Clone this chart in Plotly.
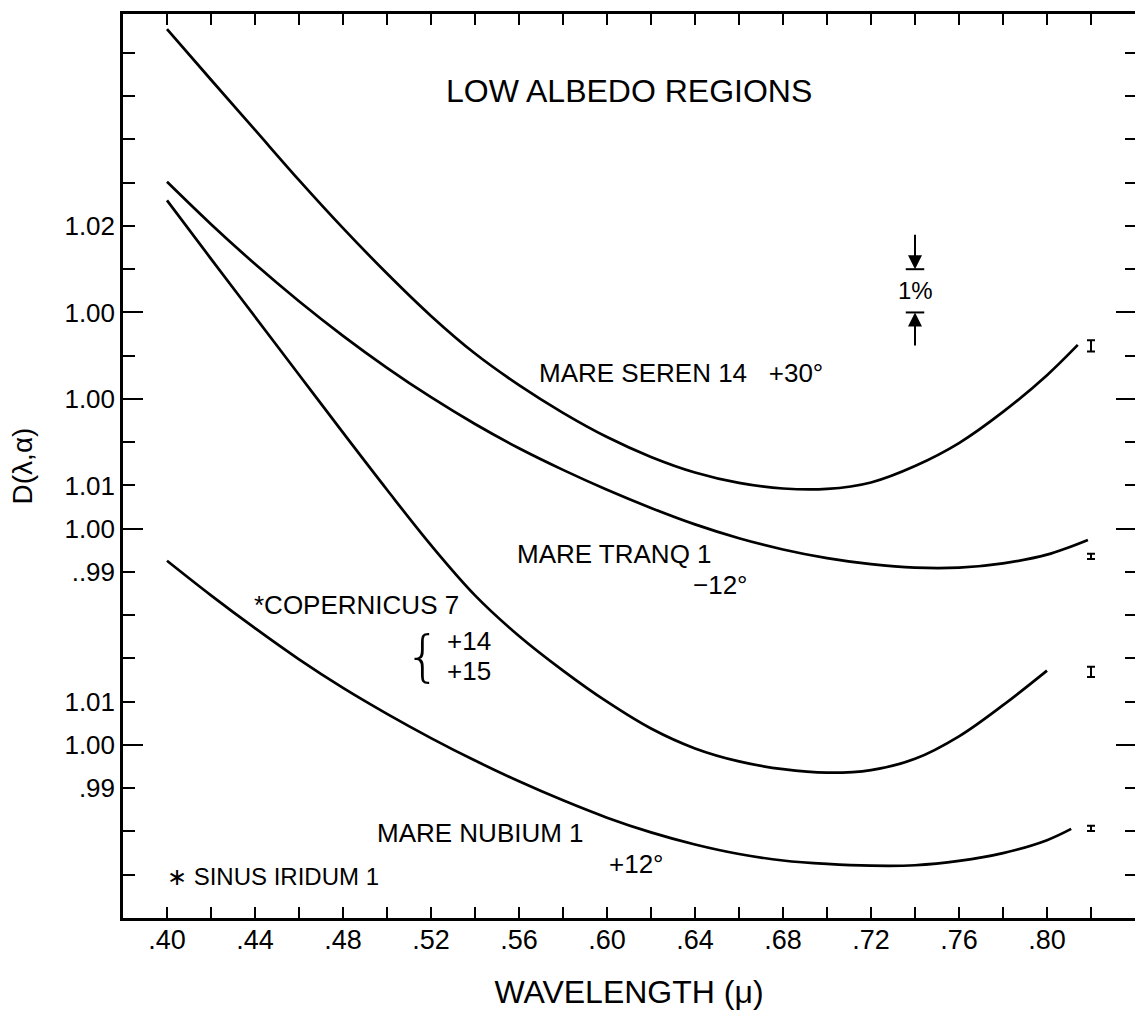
import plotly.graph_objects as go

# ---- data (wavelength in microns; y in chart units, 1 unit = 1 %) ----
seren_x = [0.40, 0.42, 0.44, 0.46, 0.48, 0.50, 0.52, 0.54, 0.56, 0.58, 0.60, 0.62, 0.64,
           0.66, 0.68, 0.70, 0.72, 0.74, 0.76, 0.78, 0.80, 0.814]
seren_y = [20.55, 19.38, 18.22, 17.06, 15.95, 14.90, 13.92, 13.05, 12.32, 11.68, 11.12, 10.66, 10.30,
           10.06, 9.93, 9.92, 10.07, 10.45, 10.98, 11.70, 12.55, 13.25]

tranq_x = [0.40, 0.42, 0.44, 0.46, 0.48, 0.50, 0.52, 0.54, 0.56, 0.58, 0.60, 0.62, 0.64,
           0.66, 0.68, 0.70, 0.72, 0.74, 0.76, 0.78, 0.80, 0.8186]
tranq_y = [17.02, 16.04, 15.12, 14.26, 13.46, 12.72, 12.04, 11.42, 10.86, 10.36, 9.90, 9.48, 9.10,
           8.78, 8.52, 8.32, 8.18, 8.10, 8.10, 8.20, 8.40, 8.74]

coper_x = [0.40, 0.42, 0.44, 0.46, 0.48, 0.50, 0.52, 0.54, 0.56, 0.58, 0.60, 0.62, 0.64,
           0.66, 0.68, 0.70, 0.72, 0.74, 0.76, 0.78, 0.80]
coper_y = [16.59, 15.24, 13.90, 12.56, 11.22, 9.90, 8.62, 7.46, 6.52, 5.72, 5.00, 4.38, 3.92,
           3.62, 3.44, 3.36, 3.42, 3.68, 4.20, 4.92, 5.72]

nubium_x = [0.40, 0.42, 0.44, 0.46, 0.48, 0.50, 0.52, 0.54, 0.56, 0.58, 0.60, 0.62, 0.64,
            0.66, 0.68, 0.70, 0.72, 0.74, 0.76, 0.78, 0.80, 0.811]
nubium_y = [8.26, 7.46, 6.70, 5.98, 5.32, 4.72, 4.16, 3.64, 3.16, 2.72, 2.32, 1.98, 1.70,
            1.48, 1.33, 1.25, 1.21, 1.22, 1.32, 1.50, 1.80, 2.06]

err_x = [0.82, 0.82, 0.82, 0.82]
err_y = [13.23, 8.36, 5.69, 2.07]
err_size = [0.13, 0.06, 0.12, 0.06]

x_tick_vals = [round(0.40 + 0.02 * i, 2) for i in range(22)]
x_tick_text = [(".%02d" % round(v * 100)) if i % 2 == 0 else "" for i, v in enumerate(x_tick_vals)]

y_minor_vals = list(range(1, 21))
y_label_map = {3: ".99", 4: "1.00", 5: "1.01", 8: "..99", 9: "1.00", 10: "1.01",
               12: "1.00", 14: "1.00", 16: "1.02"}
y_tick_text = [y_label_map.get(v, "") for v in y_minor_vals]
y_major_vals = [4, 9, 12, 14]

# 1% scale bar
bar_x = 0.740
bar_top = 15.0
bar_bottom = 14.0

X_RANGE = [0.38, 0.84]
Y_RANGE = [0, 20.9]
FONT = "Liberation Sans, Arial, sans-serif"
LW = 2.7

fig = go.Figure()
for xs, ys in [(seren_x, seren_y), (tranq_x, tranq_y), (coper_x, coper_y), (nubium_x, nubium_y)]:
    fig.add_trace(go.Scatter(x=xs, y=ys, mode="lines",
                             line=dict(color="black", width=LW, shape="spline", smoothing=1.0),
                             showlegend=False, hoverinfo="skip"))

fig.add_trace(go.Scatter(x=err_x, y=err_y, mode="markers", yaxis="y2",
                         marker=dict(size=1, color="black"),
                         error_y=dict(type="data", array=err_size, color="black", thickness=2, width=4),
                         showlegend=False, hoverinfo="skip"))
fig.add_trace(go.Scatter(x=[None], y=[None], yaxis="y3", showlegend=False, hoverinfo="skip"))
fig.add_trace(go.Scatter(x=[None], y=[None], yaxis="y4", showlegend=False, hoverinfo="skip"))

common_y = dict(range=Y_RANGE, showgrid=False, zeroline=False, fixedrange=True)

fig.update_layout(
    width=1135, height=1010,
    margin=dict(l=123, r=0, t=14, b=89),
    paper_bgcolor="white", plot_bgcolor="white",
    font=dict(family=FONT, color="black", size=24),
    xaxis=dict(range=X_RANGE, tickvals=x_tick_vals, ticktext=x_tick_text,
               ticks="inside", ticklen=11, tickwidth=2, tickcolor="black",
               showline=True, linewidth=2.5, linecolor="black", mirror="ticks",
               showgrid=False, zeroline=False, ticklabelstandoff=-4,
               tickfont=dict(size=27),
               title=dict(text="WAVELENGTH (\u03bc)", font=dict(size=32), standoff=32)),
    yaxis=dict(**common_y, tickvals=y_minor_vals, ticktext=y_tick_text,
               ticks="inside", ticklen=12, tickwidth=2, tickcolor="black",
               showline=True, linewidth=2.5, linecolor="black",
               ticklabelstandoff=0, tickfont=dict(size=26),
               title=dict(text="D(\u03bb,\u03b1)", font=dict(size=28), standoff=24)),
    yaxis2=dict(**common_y, overlaying="y", side="right", anchor="x",
                tickvals=y_minor_vals, showticklabels=False,
                ticks="inside", ticklen=10, tickwidth=2, tickcolor="black", showline=False),
    yaxis3=dict(**common_y, overlaying="y", side="left", anchor="x",
                tickvals=y_major_vals, showticklabels=False,
                ticks="inside", ticklen=20, tickwidth=2, tickcolor="black", showline=False),
    yaxis4=dict(**common_y, overlaying="y", side="right", anchor="x",
                tickvals=y_major_vals, showticklabels=False,
                ticks="inside", ticklen=19, tickwidth=2, tickcolor="black", showline=False),
)


def label(text, x, y, size=26, xanchor="left", family=FONT, weight=None, pad=1):
    f = dict(size=size, family=family)
    if weight is not None:
        f["weight"] = weight
    fig.add_annotation(text=text, x=x, y=y, xref="x", yref="y", showarrow=False,
                       xanchor=xanchor, yanchor="middle", font=f, borderpad=pad)


label("LOW ALBEDO REGIONS", 0.610, 19.12, size=32, xanchor="center")
label("MARE SEREN 14\u00a0\u00a0\u00a0+30\u00b0", 0.5682, 12.60)
label("MARE TRANQ 1", 0.5582, 8.41)
label("\u221212\u00b0", 0.6382, 7.70)
label("*COPERNICUS 7", 0.4386, 7.24)
label("{", 0.5250, 6.06, size=56, xanchor="right", family="DejaVu Sans", weight=200, pad=0)
label("+14", 0.5268, 6.41, size=26, pad=0)
label("+15", 0.5268, 5.71, size=26, pad=0)
label("MARE NUBIUM 1", 0.4945, 1.96)
label("+12\u00b0", 0.6000, 1.24)
label("\u2217 SINUS IRIDUM 1", 0.3991, 0.97, size=24)
label("1%", bar_x, (bar_top + bar_bottom) / 2, size=24, xanchor="center")

# scale bar arrows
fig.add_annotation(x=bar_x, y=bar_top, ax=bar_x, ay=bar_top + 0.83, xref="x", yref="y",
                   axref="x", ayref="y", text="", showarrow=True, arrowhead=2,
                   arrowsize=1.4, arrowwidth=2, arrowcolor="black")
fig.add_annotation(x=bar_x, y=bar_bottom, ax=bar_x, ay=bar_bottom - 0.8, xref="x", yref="y",
                   axref="x", ayref="y", text="", showarrow=True, arrowhead=2,
                   arrowsize=1.4, arrowwidth=2, arrowcolor="black")
for yb in (bar_top, bar_bottom):
    fig.add_shape(type="line", x0=bar_x - 0.0042, x1=bar_x + 0.0042, y0=yb, y1=yb,
                  xref="x", yref="y", line=dict(color="black", width=2))

fig.write_html("out.html")
